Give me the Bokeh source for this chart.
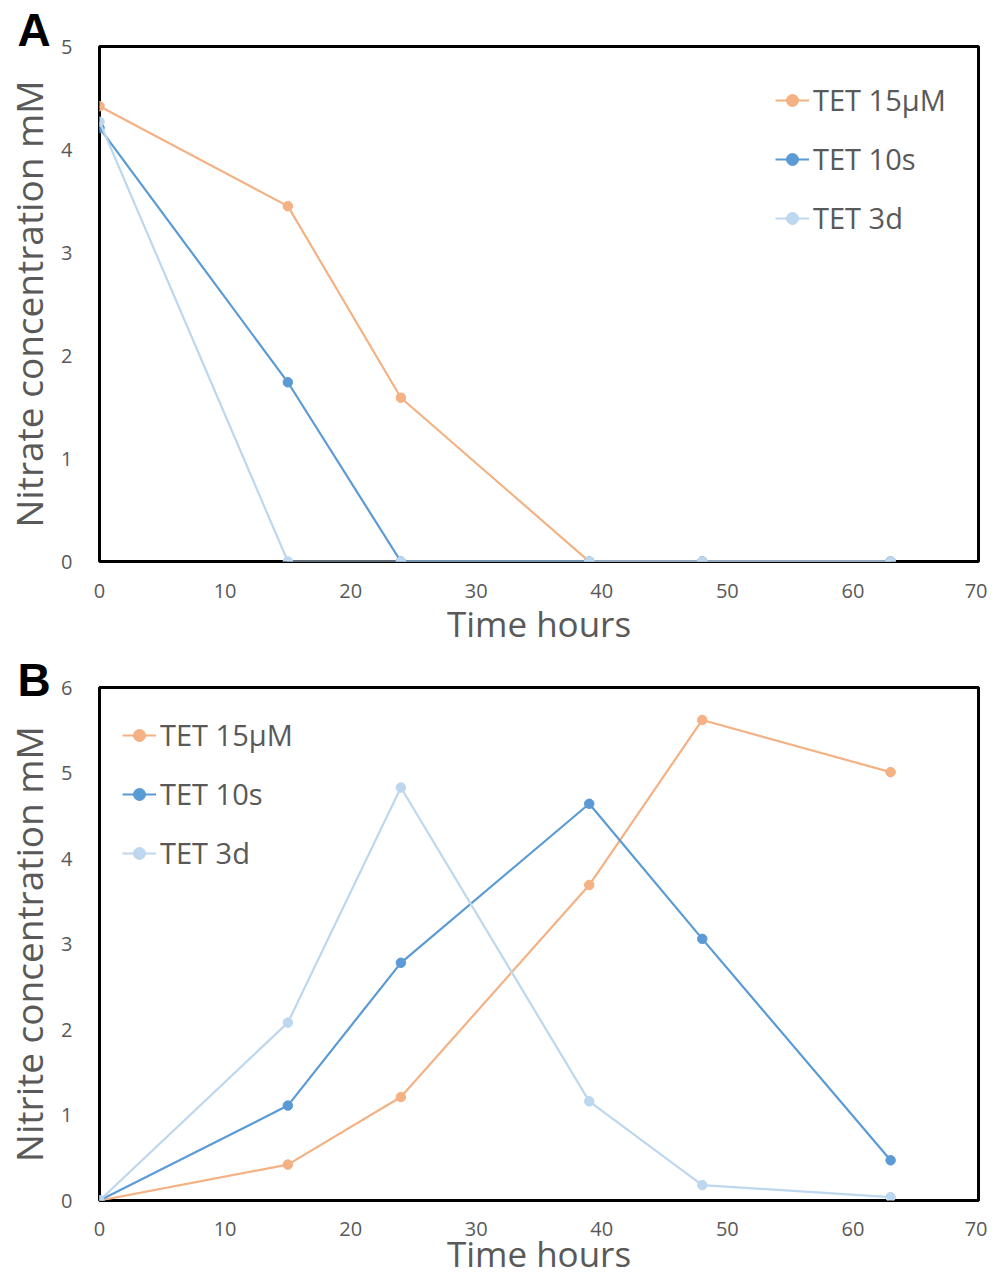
from bokeh.plotting import figure
from bokeh.models import Range1d, FixedTicker, Legend, LegendItem
from bokeh.layouts import column
from bokeh.embed import file_html
from bokeh.resources import INLINE

# ---- data ----
time_h = [0, 15, 24, 39, 48, 63]
series_names = ["TET 15\u00b5M", "TET 10s", "TET 3d"]

nitrate_15uM = [4.42, 3.45, 1.59, 0.0, 0.0, 0.0]
nitrate_10s = [4.21, 1.74, 0.0, 0.0, 0.0, 0.0]
nitrate_3d = [4.27, 0.0, 0.0, 0.0, 0.0, 0.0]

nitrite_15uM = [0.0, 0.42, 1.21, 3.69, 5.62, 5.01]
nitrite_10s = [0.0, 1.11, 2.78, 4.64, 3.06, 0.47]
nitrite_3d = [0.0, 2.08, 4.83, 1.16, 0.18, 0.04]

x_ticks = [0, 10, 20, 30, 40, 50, 60, 70]
colors = ["#F4B183", "#5B9BD5", "#BDD7EE"]

FONT = "Open Sans"
GRAY = "#595959"


def make_panel(letter, letter_standoff, series, ymax, ylabel, height, border_top, border_bottom,
               tick_standoff, title_standoff, legend_loc):
    p = figure(width=987, height=height, output_backend="svg", toolbar_location=None,
               x_range=Range1d(0, 70), y_range=Range1d(0, ymax),
               min_border_left=91, min_border_right=9,
               min_border_top=border_top, min_border_bottom=border_bottom)
    p.grid.visible = False
    p.outline_line_color = "black"
    p.outline_line_width = 3
    p.background_fill_color = "white"
    p.border_fill_color = "white"

    # panel letter as the figure title
    p.title.text = letter
    p.title.align = "left"
    p.title.offset = -82
    p.title.standoff = letter_standoff
    p.title.text_font = "Liberation Sans"
    p.title.text_font_style = "bold"
    p.title.text_font_size = "46px"
    p.title.text_color = "black"
    p.title.text_baseline = "alphabetic"

    p.xaxis.ticker = FixedTicker(ticks=x_ticks)
    p.yaxis.ticker = FixedTicker(ticks=list(range(0, ymax + 1)))
    for ax in (p.xaxis, p.yaxis):
        ax.axis_line_color = None
        ax.major_tick_line_color = None
        ax.minor_tick_line_color = None
        ax.major_label_text_font = FONT
        ax.major_label_text_font_size = "20px"
        ax.major_label_text_color = GRAY
        ax.axis_label_text_font = FONT
        ax.axis_label_text_font_style = "normal"
        ax.axis_label_text_color = GRAY
    p.xaxis.major_label_standoff = tick_standoff
    p.yaxis.major_label_standoff = 21
    p.xaxis.axis_label = "Time hours"
    p.xaxis.axis_label_text_font_size = "35px"
    p.xaxis.axis_label_standoff = title_standoff
    p.yaxis.axis_label = ylabel
    p.yaxis.axis_label_text_font_size = "37px"
    p.yaxis.axis_label_standoff = 4

    items = []
    for name, ys, c in zip(series_names, series, colors):
        r1 = p.line(time_h, ys, line_color=c, line_width=2.2)
        r2 = p.scatter(time_h, ys, size=9.5, fill_color=c, line_color=c)
        items.append(LegendItem(label=name, renderers=[r1, r2]))

    leg = Legend(items=items, location=legend_loc,
                 label_text_font=FONT, label_text_font_size="29px", label_text_color=GRAY,
                 glyph_width=34, glyph_height=30, label_height=30, label_standoff=4,
                 spacing=20, padding=0, margin=0,
                 border_line_color=None, background_fill_alpha=0)
    p.add_layout(leg)
    return p


pA = make_panel("A", -18, [nitrate_15uM, nitrate_10s, nitrate_3d], 5,
                "Nitrate concentration mM", 654, 46, 93, 16, -1, (676, 324))
pB = make_panel("B", -36, [nitrite_15uM, nitrite_10s, nitrite_3d], 6,
                "Nitrite concentration mM", 629, 33, 83, 15, -9, (23, 328))

layout = column(pA, pB, spacing=0)
open("out.html", "w").write(file_html(layout, INLINE))
